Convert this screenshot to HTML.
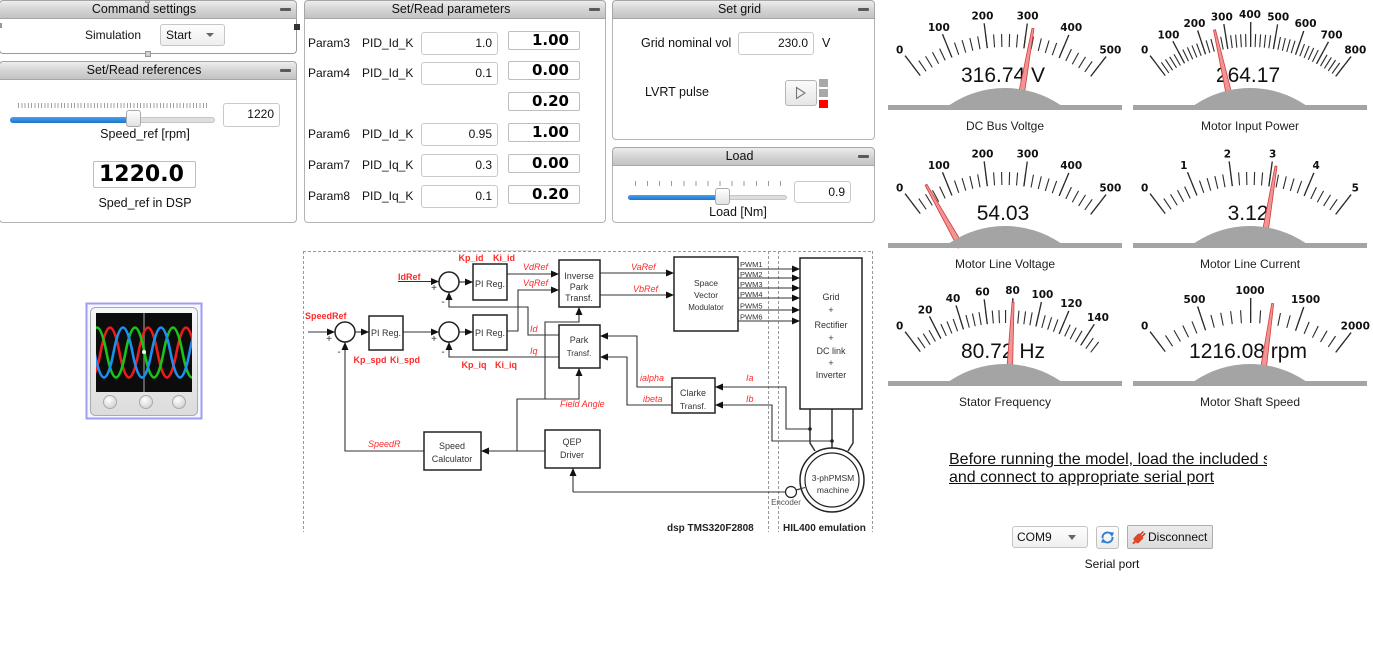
<!DOCTYPE html>
<html><head><meta charset="utf-8">
<style>
*{margin:0;padding:0;box-sizing:border-box}
body{width:1373px;height:665px;background:#fff;position:relative;overflow:hidden;font-family:"Liberation Sans",Arial,sans-serif;font-size:12px;color:#111}
.a{position:absolute}
.hdr{position:absolute;height:19px;background:linear-gradient(#ededed,#d2d2d2 55%,#c3c3c3);border:1px solid #a6a6a6;border-radius:4px 4px 0 0;text-align:center;line-height:17px;padding-right:8px;font-size:12.5px;color:#111}
.hdr i{position:absolute;right:5px;top:7px;width:11px;height:3px;background:#5a5a5a;border-radius:1px}
.bd{position:absolute;background:#fff;border:1px solid #b3b3b3;border-top:none;border-radius:0 0 4px 4px}
.inp{position:absolute;border:1px solid #c9c9c9;border-radius:3px;background:#fff;text-align:right;padding-right:5px;line-height:21px;font-size:12px}
.out{position:absolute;border:1px solid #bdbdbd;border-radius:2px;background:#fff;text-align:right;padding-right:10px;font-family:"DejaVu Sans",sans-serif;font-weight:bold;font-size:15px;line-height:17px;color:#000}
.lbl{position:absolute;white-space:nowrap;line-height:14px;font-size:12px}
.clip{overflow:hidden}
.val{font-family:"Liberation Sans",sans-serif;font-size:21px;text-anchor:middle;fill:#111}
.ttl{font-family:"Liberation Sans",sans-serif;font-size:12px;text-anchor:middle;fill:#222}
.sl text{font-family:"DejaVu Sans",sans-serif;font-weight:bold;font-size:10.5px;text-anchor:middle;fill:#111}
.ndl{fill:#f39494;stroke:#d23c3c;stroke-width:.8}
.dome{fill:#a4a4a4}
.tk{fill:none;stroke:#2b2b2b}
.dt text{font-family:"Liberation Sans",Arial,sans-serif;font-size:9px;fill:#333;text-anchor:middle}
.rb{font-family:"Liberation Sans",Arial,sans-serif;font-size:9px;font-weight:bold;fill:#ff2a2a}
.ri{font-family:"Liberation Sans",Arial,sans-serif;font-size:9px;font-style:italic;fill:#ff2a2a}
</style></head><body>

<!-- Command settings -->
<div class="hdr" style="left:-1px;top:0;width:298px">Command settings<i></i></div>
<div class="bd" style="left:-1px;top:19px;width:298px;height:35px;border-color:#9a9a9a"></div>
<div class="a" style="left:145px;top:0;width:5px;height:3px;background:#c8c8c8;border:1px solid #999"></div>
<div class="a" style="left:145px;top:51px;width:6px;height:6px;background:#d0d0d0;border:1px solid #999"></div>
<div class="a" style="left:294px;top:24px;width:6px;height:6px;background:#333"></div>
<div class="a" style="left:0;top:23px;width:2px;height:5px;background:#999"></div>
<div class="lbl" style="left:85px;top:28px">Simulation</div>
<div class="a" style="left:160px;top:24px;width:65px;height:22px;border:1px solid #c6c6c6;border-radius:3px;background:linear-gradient(#fdfdfd,#eeeeee);line-height:20px;padding-left:5px">Start</div>
<div class="a" style="left:206px;top:33px;width:0;height:0;border-left:4px solid transparent;border-right:4px solid transparent;border-top:4px solid #666"></div>

<!-- Set/Read references -->
<div class="hdr" style="left:-1px;top:61px;width:298px">Set/Read references<i></i></div>
<div class="bd" style="left:-1px;top:80px;width:298px;height:143px"></div>
<div class="a" style="left:18px;top:103px;width:190px;height:5px;background:repeating-linear-gradient(90deg,#a0a0a0 0 1px,transparent 1px 3.3px)"></div>
<div class="a" style="left:10px;top:117px;width:205px;height:6px;background:#dedede;border:1px solid #c6c6c6;border-radius:3px"></div>
<div class="a" style="left:10px;top:117px;width:123px;height:6px;background:linear-gradient(#4aa2ee,#1c74cc);border-radius:3px 0 0 3px"></div>
<div class="a" style="left:126px;top:110px;width:15px;height:17px;background:linear-gradient(#ffffff,#e2e2e2);border:1px solid #a9a9a9;border-radius:3px"></div>
<div class="inp" style="left:223px;top:103px;width:57px;height:24px">1220</div>
<div class="lbl" style="left:45px;top:127px;width:200px;text-align:center;font-size:12.5px">Speed_ref [rpm]</div>
<div class="a" style="left:93px;top:161px;width:103px;height:27px;border:1px solid #bdbdbd;border-radius:2px;font-family:'DejaVu Sans',sans-serif;font-weight:bold;font-size:22px;line-height:25px;padding-left:5px;color:#000">1220.0</div>
<div class="lbl" style="left:45px;top:196px;width:200px;text-align:center;font-size:12.5px">Sped_ref in DSP</div>

<!-- Set/Read parameters -->
<div class="hdr" style="left:304px;top:0;width:302px">Set/Read parameters<i></i></div>
<div class="bd" style="left:304px;top:19px;width:302px;height:204px"></div>

<div class="lbl" style="left:308px;top:36px">Param3</div>
<div class="lbl clip" style="left:362px;top:36px;width:52px">PID_Id_Kp</div>
<div class="inp" style="left:421px;top:32px;width:77px;height:23px">1.0</div>
<div class="out" style="left:508px;top:31px;width:72px;height:19px">1.00</div>

<div class="lbl" style="left:308px;top:66px">Param4</div>
<div class="lbl clip" style="left:362px;top:66px;width:52px">PID_Id_Ki</div>
<div class="inp" style="left:421px;top:62px;width:77px;height:23px">0.1</div>
<div class="out" style="left:508px;top:61px;width:72px;height:19px">0.00</div>

<div class="out" style="left:508px;top:92px;width:72px;height:19px">0.20</div>

<div class="lbl" style="left:308px;top:127px">Param6</div>
<div class="lbl clip" style="left:362px;top:127px;width:52px">PID_Id_Kd</div>
<div class="inp" style="left:421px;top:123px;width:77px;height:23px">0.95</div>
<div class="out" style="left:508px;top:123px;width:72px;height:19px">1.00</div>

<div class="lbl" style="left:308px;top:158px">Param7</div>
<div class="lbl clip" style="left:362px;top:158px;width:52px">PID_Iq_Kp</div>
<div class="inp" style="left:421px;top:154px;width:77px;height:23px">0.3</div>
<div class="out" style="left:508px;top:154px;width:72px;height:19px">0.00</div>

<div class="lbl" style="left:308px;top:189px">Param8</div>
<div class="lbl clip" style="left:362px;top:189px;width:52px">PID_Iq_Ki</div>
<div class="inp" style="left:421px;top:185px;width:77px;height:23px">0.1</div>
<div class="out" style="left:508px;top:185px;width:72px;height:19px">0.20</div>

<!-- Set grid -->
<div class="hdr" style="left:612px;top:0;width:263px">Set grid<i></i></div>
<div class="bd" style="left:612px;top:19px;width:263px;height:121px"></div>
<div class="lbl" style="left:641px;top:36px;font-size:12.5px">Grid nominal vol</div>
<div class="inp" style="left:738px;top:32px;width:76px;height:23px">230.0</div>
<div class="lbl" style="left:822px;top:36px;font-size:12.5px">V</div>
<div class="lbl" style="left:645px;top:85px;font-size:12.5px">LVRT pulse</div>
<div class="a" style="left:785px;top:80px;width:32px;height:26px;border:1px solid #b5b5b5;border-radius:3px;background:linear-gradient(#fbfbfb,#e6e6e6)"></div>
<svg class="a" style="left:795px;top:86px" width="12" height="14"><polygon points="1.5,1.5 10,7 1.5,12.5" fill="none" stroke="#777" stroke-width="1.1"/></svg>
<div class="a" style="left:819px;top:79px;width:9px;height:8px;background:#a8a8a8"></div>
<div class="a" style="left:819px;top:89px;width:9px;height:8px;background:#a8a8a8"></div>
<div class="a" style="left:819px;top:100px;width:9px;height:8px;background:#ff0000"></div>

<!-- Load -->
<div class="hdr" style="left:612px;top:147px;width:263px">Load<i></i></div>
<div class="bd" style="left:612px;top:166px;width:263px;height:57px"></div>
<div class="a" style="left:635px;top:181px;width:147px;height:5px;background:repeating-linear-gradient(90deg,#9a9a9a 0 1px,transparent 1px 12.08px)"></div>
<div class="a" style="left:628px;top:195px;width:159px;height:5px;background:#dedede;border:1px solid #c6c6c6;border-radius:3px"></div>
<div class="a" style="left:628px;top:195px;width:93px;height:5px;background:linear-gradient(#4aa2ee,#1c74cc);border-radius:3px 0 0 3px"></div>
<div class="a" style="left:715px;top:188px;width:15px;height:17px;background:linear-gradient(#ffffff,#e2e2e2);border:1px solid #a9a9a9;border-radius:3px"></div>
<div class="inp" style="left:794px;top:181px;width:57px;height:22px;line-height:20px">0.9</div>
<div class="lbl" style="left:688px;top:205px;width:100px;text-align:center;font-size:12.5px">Load [Nm]</div>

<!-- bottom right -->
<div class="a" style="left:949px;top:451px;width:318px;overflow:hidden;white-space:nowrap;font-size:16px;line-height:18px;text-decoration:underline;color:#111">Before running the model, load the included script<br>and connect to appropriate serial port</div>
<div class="a" style="left:1012px;top:526px;width:76px;height:22px;border:1px solid #c4c4c4;border-radius:3px;background:linear-gradient(#fefefe,#efefef);line-height:20px;padding-left:4px;font-size:12px">COM9</div>
<div class="a" style="left:1068px;top:535px;width:0;height:0;border-left:4.5px solid transparent;border-right:4.5px solid transparent;border-top:5px solid #666"></div>
<div class="a" style="left:1096px;top:526px;width:23px;height:23px;border:1px solid #c0c0c0;border-radius:3px;background:linear-gradient(#fefefe,#ececec)"></div>
<svg class="a" style="left:1099px;top:529px" width="17" height="17">
<path d="M3.5,9 A5,5 0 0 1 12.5,5.5" fill="none" stroke="#2f7fd0" stroke-width="2"/>
<polygon points="10,3 15,3.5 13,8" fill="#2f7fd0"/>
<path d="M13.5,8 A5,5 0 0 1 4.5,11.5" fill="none" stroke="#2f7fd0" stroke-width="2"/>
<polygon points="7,14 2,13.5 4,9" fill="#2f7fd0"/>
</svg>
<div class="a" style="left:1127px;top:525px;width:86px;height:24px;border:1px solid #adadad;border-radius:2px;background:linear-gradient(#ececec,#dcdcdc);line-height:22px;padding-left:20px;font-size:12px">Disconnect</div>
<svg class="a" style="left:1130px;top:528px" width="18" height="18">
<g transform="rotate(-45 9 9)"><rect x="3" y="6" width="9" height="7" rx="2" fill="#e0472a"/><rect x="12" y="7.5" width="4" height="1.5" fill="#c23a20"/><rect x="12" y="10" width="4" height="1.5" fill="#c23a20"/><rect x="0" y="8.5" width="4" height="2" fill="#e0472a"/></g>
</svg>
<div class="lbl" style="left:1062px;top:557px;width:100px;text-align:center">Serial port</div>

<svg class="a" style="left:0;top:0" width="1373" height="665">
<defs>
<marker id="ah" markerUnits="userSpaceOnUse" markerWidth="8" markerHeight="7" refX="8" refY="3.5" orient="auto"><path d="M0,0 L8,3.5 L0,7 z" fill="#111"/></marker>
<linearGradient id="bg1" x1="0" y1="0" x2="0" y2="1"><stop offset="0" stop-color="#f7f7f7"/><stop offset="1" stop-color="#dcdcdc"/></linearGradient>
<radialGradient id="kn" cx="0.4" cy="0.35" r="0.7"><stop offset="0" stop-color="#ffffff"/><stop offset="1" stop-color="#cfcfcf"/></radialGradient>
<clipPath id="scr"><rect x="96" y="313" width="96" height="79"/></clipPath>
</defs>

<!-- scope icon -->
<rect x="86.5" y="303.5" width="115" height="115" fill="#f6f6ff" stroke="#9d9df2" stroke-width="2"/>
<rect x="90.5" y="307.5" width="107" height="108" rx="5" fill="url(#bg1)" stroke="#ababab"/>
<rect x="96" y="313" width="96" height="79" fill="#0c0c0c"/>
<line x1="144" y1="313" x2="144" y2="392" stroke="#777" stroke-width="1.5"/>
<g clip-path="url(#scr)" fill="none" stroke-width="2.6">
<path stroke="#ee1c1c" d="M81.5,352.5 Q91,402.5 100.5,352.5 T119.5,352.5 T138.5,352.5 T157.5,352.5 T176.5,352.5 T195.5,352.5 T214.5,352.5"/>
<path stroke="#18c418" d="M68.5,352.5 Q78,402.5 87.5,352.5 T106.5,352.5 T125.5,352.5 T144.5,352.5 T163.5,352.5 T182.5,352.5 T201.5,352.5"/>
<path stroke="#1c8ff0" d="M94.5,352.5 Q104,402.5 113.5,352.5 T132.5,352.5 T151.5,352.5 T170.5,352.5 T189.5,352.5 T208.5,352.5"/>
</g>
<circle cx="144" cy="352" r="2" fill="#fff"/>
<g fill="url(#kn)" stroke="#aaa"><circle cx="110" cy="402" r="6.5"/><circle cx="146" cy="402" r="6.5"/><circle cx="179" cy="402" r="6.5"/></g>

<!-- block diagram -->
<line x1="412" y1="250.5" x2="532" y2="250.5" stroke="#dcdcdc"/>
<g stroke="#9a9a9a" stroke-dasharray="3 2" fill="none" stroke-width="1">
<path d="M303.5,251 V532 M303,251.5 H873 M768.5,251 V532 M778.5,251 V532 M872.5,251 V532"/>
</g>
<g fill="none" stroke="#333" stroke-width="1.1">
<path d="M398,281.5 H439" marker-end="url(#ah)"/>
<path d="M459,282 H473" marker-end="url(#ah)"/>
<path d="M507,274 H559" marker-end="url(#ah)"/>
<path d="M507,331 H518 V290 H559" marker-end="url(#ah)"/>
<path d="M559,335 H528 V307 H449 V292" marker-end="url(#ah)"/>
<path d="M559,357 H449 V342" marker-end="url(#ah)"/>
<path d="M308,332 H335" marker-end="url(#ah)"/>
<path d="M355,332 H369" marker-end="url(#ah)"/>
<path d="M403,332 H439" marker-end="url(#ah)"/>
<path d="M459,332 H473" marker-end="url(#ah)"/>
<path d="M424,451 H345 V342" marker-end="url(#ah)"/>
<path d="M545,451 H481" marker-end="url(#ah)"/>
<path d="M517,451 V399 H579 V368" marker-end="url(#ah)"/>
<path d="M545,399 V322 H579 V307" marker-end="url(#ah)"/>
<path d="M573,492 V468" marker-end="url(#ah)"/>
<path d="M573,492 H786"/>
<path d="M600,273 H674" marker-end="url(#ah)"/>
<path d="M600,295 H674" marker-end="url(#ah)"/>
<path d="M738,269 H800" marker-end="url(#ah)"/>
<path d="M738,278 H800" marker-end="url(#ah)"/>
<path d="M738,288 H800" marker-end="url(#ah)"/>
<path d="M738,298 H800" marker-end="url(#ah)"/>
<path d="M738,310 H800" marker-end="url(#ah)"/>
<path d="M738,321 H800" marker-end="url(#ah)"/>
<path d="M810,409 V443 L815,451 M832,409 V449 M853,409 V443 L848,451" stroke-width="1.5"/>
<path d="M810,429 H786 V387 H715" marker-end="url(#ah)"/>
<path d="M832,441 H772 V405 H715" marker-end="url(#ah)"/>
<path d="M672,387 H637 V336 H600" marker-end="url(#ah)"/>
<path d="M672,405 H627 V357 H600" marker-end="url(#ah)"/>
<path d="M796,490 L822,483"/>
</g>
<g fill="#fff" stroke="#222" stroke-width="1.5">
<rect x="473" y="264" width="34" height="36"/>
<rect x="369" y="316" width="34" height="34"/>
<rect x="473" y="315" width="34" height="35"/>
<rect x="559" y="260" width="41" height="47"/>
<rect x="559" y="325" width="41" height="43"/>
<rect x="674" y="257" width="64" height="74"/>
<rect x="800" y="258" width="62" height="151"/>
<rect x="672" y="378" width="43" height="35"/>
<rect x="424" y="432" width="57" height="38"/>
<rect x="545" y="430" width="55" height="38"/>
<circle cx="345" cy="332" r="10"/>
<circle cx="449" cy="282" r="10"/>
<circle cx="449" cy="332" r="10"/>
<circle cx="832" cy="480" r="32"/>
<circle cx="832" cy="480" r="27" stroke-width="1.2" fill="none"/>
<circle cx="791" cy="492" r="5.5" stroke-width="1.2"/>
</g>
<circle cx="810" cy="429" r="1.8" fill="#222"/>
<circle cx="832" cy="441" r="1.8" fill="#222"/>
<path d="M796,490 L805,487.5" stroke="#333" stroke-width="1.1"/>

<g class="dt">
<text x="490" y="287">PI Reg.</text>
<text x="386" y="336">PI Reg.</text>
<text x="490" y="336">PI Reg.</text>
<text x="579" y="279">Inverse</text>
<text x="579" y="290">Park</text>
<text x="579" y="301">Transf.</text>
<text x="579" y="343">Park</text>
<text x="579" y="356" style="font-size:8px">Transf.</text>
<text x="706" y="286" style="font-size:8.5px">Space</text>
<text x="706" y="298" style="font-size:8.5px">Vector</text>
<text x="706" y="310" style="font-size:8px">Modulator</text>
<text x="831" y="300">Grid</text>
<text x="831" y="313">+</text>
<text x="831" y="328">Rectifier</text>
<text x="831" y="341">+</text>
<text x="831" y="354">DC link</text>
<text x="831" y="366">+</text>
<text x="831" y="378">Inverter</text>
<text x="693" y="396">Clarke</text>
<text x="693" y="409" style="font-size:8.5px">Transf.</text>
<text x="452" y="449">Speed</text>
<text x="452" y="462">Calculator</text>
<text x="572" y="445">QEP</text>
<text x="572" y="458">Driver</text>
<text x="833" y="481" style="font-size:8.5px">3-phPMSM</text>
<text x="833" y="493" style="font-size:8.5px">machine</text>
<text x="786" y="505" style="font-size:8px;fill:#555">Encoder</text>
<text x="434" y="291" style="font-size:10px">+</text>
<text x="443" y="305" style="font-size:10px">-</text>
<text x="329" y="342" style="font-size:10px">+</text>
<text x="339" y="355" style="font-size:10px">-</text>
<text x="434" y="342" style="font-size:10px">+</text>
<text x="443" y="355" style="font-size:10px">-</text>
</g>
<g style="font-family:'Liberation Sans',Arial,sans-serif;font-size:7.5px;fill:#333">
<text x="740" y="267">PWM1</text>
<text x="740" y="277">PWM2</text>
<text x="740" y="287">PWM3</text>
<text x="740" y="297">PWM4</text>
<text x="740" y="308.5">PWM5</text>
<text x="740" y="319.5">PWM6</text>
</g>
<g class="rb">
<text x="471" y="261" text-anchor="middle">Kp_id</text>
<text x="504" y="261" text-anchor="middle">Ki_id</text>
<text x="398" y="280">IdRef</text>
<text x="305" y="319">SpeedRef</text>
<text x="370" y="363" text-anchor="middle">Kp_spd</text>
<text x="405" y="363" text-anchor="middle">Ki_spd</text>
<text x="474" y="368" text-anchor="middle">Kp_iq</text>
<text x="506" y="368" text-anchor="middle">Ki_iq</text>
</g>
<g class="ri">
<text x="523" y="270">VdRef</text>
<text x="523" y="286">VqRef</text>
<text x="530" y="332">Id</text>
<text x="530" y="354">Iq</text>
<text x="368" y="447">SpeedR</text>
<text x="560" y="407">Field Angle</text>
<text x="631" y="270">VaRef</text>
<text x="633" y="292">VbRef</text>
<text x="640" y="381">ialpha</text>
<text x="643" y="402">ibeta</text>
<text x="746" y="381">Ia</text>
<text x="746" y="402">Ib</text>
</g>
<g style="font-family:'Liberation Sans',Arial,sans-serif;font-size:10px;font-weight:bold;fill:#222">
<text x="667" y="531">dsp  TMS320F2808</text>
<text x="783" y="531">HIL400 emulation</text>
</g>

<!-- Gauge 1 -->
<g transform="translate(1005,0)">
<path class="tk" d="M-89.19,70.77 A146.5,146.5 0 0 1 90.37,71.69" stroke-width="13" stroke-dasharray="1.1 6.5708"/>
<path class="tk" d="M-92.84,66.01 A152.5,152.5 0 0 1 94.02,66.93" stroke-width="25" stroke-dasharray="1.3 38.624"/>
<g class="sl"><text x="-105.3" y="53.7">0</text><text x="-66.2" y="31.2">100</text><text x="-22.6" y="19.5">200</text><text x="22.6" y="19.5">300</text><text x="66.2" y="31.2">400</text><text x="105.3" y="53.7">500</text></g>
<text class="val" x="-2" y="82">316.74 V</text>
<polygon class="ndl" points="-3,-90 3,-90 1,-161 -1,-161" transform="translate(0,187) rotate(10.01)"/>
<path class="dome" d="M-55.5,105 A99,99 0 0 1 55.5,105 Z"/>
<rect class="dome" x="-117" y="105" width="234" height="5"/>
<text class="ttl" x="0" y="130">DC Bus Voltge</text>
</g>

<!-- Gauge 2 -->
<g transform="translate(1250,0)">
<path class="tk" d="M-89.19,70.77 A146.5,146.5 0 0 1 90.37,71.69" stroke-width="13" stroke-dasharray="1.1 3.6943"/>
<path class="tk" d="M-92.84,66.01 A152.5,152.5 0 0 1 94.02,66.93" stroke-width="25" stroke-dasharray="1.3 23.6525"/>
<g class="sl"><text x="-105.3" y="53.7">0</text><text x="-81.6" y="38.4">100</text><text x="-55.6" y="27.2">200</text><text x="-28.2" y="20.3">300</text><text x="0" y="18">400</text><text x="28.2" y="20.3">500</text><text x="55.6" y="27.2">600</text><text x="81.6" y="38.4">700</text><text x="105.3" y="53.7">800</text></g>
<text class="val" x="-2" y="82">264.17</text>
<polygon class="ndl" points="-3,-90 3,-90 1,-161 -1,-161" transform="translate(0,187) rotate(-12.73)"/>
<path class="dome" d="M-55.5,105 A99,99 0 0 1 55.5,105 Z"/>
<rect class="dome" x="-117" y="105" width="234" height="5"/>
<text class="ttl" x="0" y="130">Motor Input Power</text>
</g>

<!-- Gauge 3 -->
<g transform="translate(1005,138)">
<path class="tk" d="M-89.19,70.77 A146.5,146.5 0 0 1 90.37,71.69" stroke-width="13" stroke-dasharray="1.1 6.5708"/>
<path class="tk" d="M-92.84,66.01 A152.5,152.5 0 0 1 94.02,66.93" stroke-width="25" stroke-dasharray="1.3 38.624"/>
<g class="sl"><text x="-105.3" y="53.7">0</text><text x="-66.2" y="31.2">100</text><text x="-22.6" y="19.5">200</text><text x="22.6" y="19.5">300</text><text x="66.2" y="31.2">400</text><text x="105.3" y="53.7">500</text></g>
<text class="val" x="-2" y="82">54.03</text>
<polygon class="ndl" points="-3,-90 3,-90 1,-161 -1,-161" transform="translate(0,187) rotate(-29.40)"/>
<path class="dome" d="M-55.5,105 A99,99 0 0 1 55.5,105 Z"/>
<rect class="dome" x="-117" y="105" width="234" height="5"/>
<text class="ttl" x="0" y="130">Motor Line Voltage</text>
</g>

<!-- Gauge 4 -->
<g transform="translate(1250,138)">
<path class="tk" d="M-89.19,70.77 A146.5,146.5 0 0 1 90.37,71.69" stroke-width="13" stroke-dasharray="1.1 6.5708"/>
<path class="tk" d="M-92.84,66.01 A152.5,152.5 0 0 1 94.02,66.93" stroke-width="25" stroke-dasharray="1.3 38.624"/>
<g class="sl"><text x="-105.3" y="53.7">0</text><text x="-66.2" y="31.2">1</text><text x="-22.6" y="19.5">2</text><text x="22.6" y="19.5">3</text><text x="66.2" y="31.2">4</text><text x="105.3" y="53.7">5</text></g>
<text class="val" x="-2" y="82">3.12</text>
<polygon class="ndl" points="-3,-90 3,-90 1,-161 -1,-161" transform="translate(0,187) rotate(9.3)"/>
<path class="dome" d="M-55.5,105 A99,99 0 0 1 55.5,105 Z"/>
<rect class="dome" x="-117" y="105" width="234" height="5"/>
<text class="ttl" x="0" y="130">Motor Line Current</text>
</g>

<!-- Gauge 5 -->
<g transform="translate(1005,276)">
<path class="tk" d="M-89.19,70.77 A146.5,146.5 0 0 1 90.37,71.69" stroke-width="13" stroke-dasharray="1.1 5.2923"/>
<path class="tk" d="M-92.84,66.01 A152.5,152.5 0 0 1 83.20,59.20" stroke-width="25" stroke-dasharray="1.3 25.316"/>
<g class="sl"><text x="-105.3" y="53.7">0</text><text x="-79.9" y="37.6">20</text><text x="-52" y="26">40</text><text x="-22.6" y="19.5">60</text><text x="7.5" y="18.2">80</text><text x="37.4" y="22.1">100</text><text x="66.2" y="31.2">120</text><text x="93" y="45.1">140</text></g>
<text class="val" x="-2" y="82">80.72 Hz</text>
<polygon class="ndl" points="-3,-90 3,-90 1,-161 -1,-161" transform="translate(0,187) rotate(2.86)"/>
<path class="dome" d="M-55.5,105 A99,99 0 0 1 55.5,105 Z"/>
<rect class="dome" x="-117" y="105" width="234" height="5"/>
<text class="ttl" x="0" y="130">Stator Frequency</text>
</g>

<!-- Gauge 6 -->
<g transform="translate(1250,276)">
<path class="tk" d="M-89.19,70.77 A146.5,146.5 0 0 1 90.37,71.69" stroke-width="13" stroke-dasharray="1.1 8.4885"/>
<path class="tk" d="M-92.84,66.01 A152.5,152.5 0 0 1 94.02,66.93" stroke-width="25" stroke-dasharray="1.3 48.605"/>
<g class="sl"><text x="-105.3" y="53.7">0</text><text x="-55.6" y="27.2">500</text><text x="0" y="18">1000</text><text x="55.6" y="27.2">1500</text><text x="105.3" y="53.7">2000</text></g>
<text class="val" x="-2" y="82">1216.08 rpm</text>
<polygon class="ndl" points="-3,-90 3,-90 1,-161 -1,-161" transform="translate(0,187) rotate(8.1)"/>
<path class="dome" d="M-55.5,105 A99,99 0 0 1 55.5,105 Z"/>
<rect class="dome" x="-117" y="105" width="234" height="5"/>
<text class="ttl" x="0" y="130">Motor Shaft Speed</text>
</g>
</svg>
</body></html>
